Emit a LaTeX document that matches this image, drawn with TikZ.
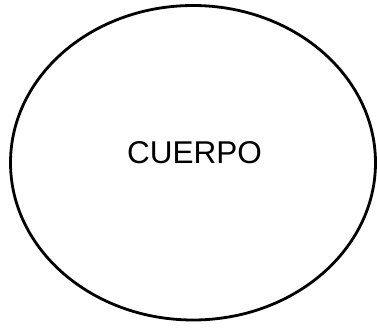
\documentclass[tikz,border=0pt]{standalone}
\usepackage{fontspec}
\setmainfont{Liberation Sans}
\usepackage{tikz}
\usetikzlibrary{shapes,positioning}
\tikzstyle{body} = [ellipse, draw=black, line width=2.8pt, minimum width=365pt, minimum height=314.5pt, inner sep=0pt, outer sep=0pt]
\tikzstyle{bodytext} = [font=\fontsize{31.5}{36}\selectfont, inner sep=0pt, anchor=base]

\begin{document}
\begin{tikzpicture}[x=1pt,y=1pt]
\useasboundingbox (0,0) rectangle (377,327);
\node[body] (cuerpo) at (193,164.25) {};
\node[bodytext] (cuerpotxt) at (194.5,164) {CUERPO};
\end{tikzpicture}
\end{document}
